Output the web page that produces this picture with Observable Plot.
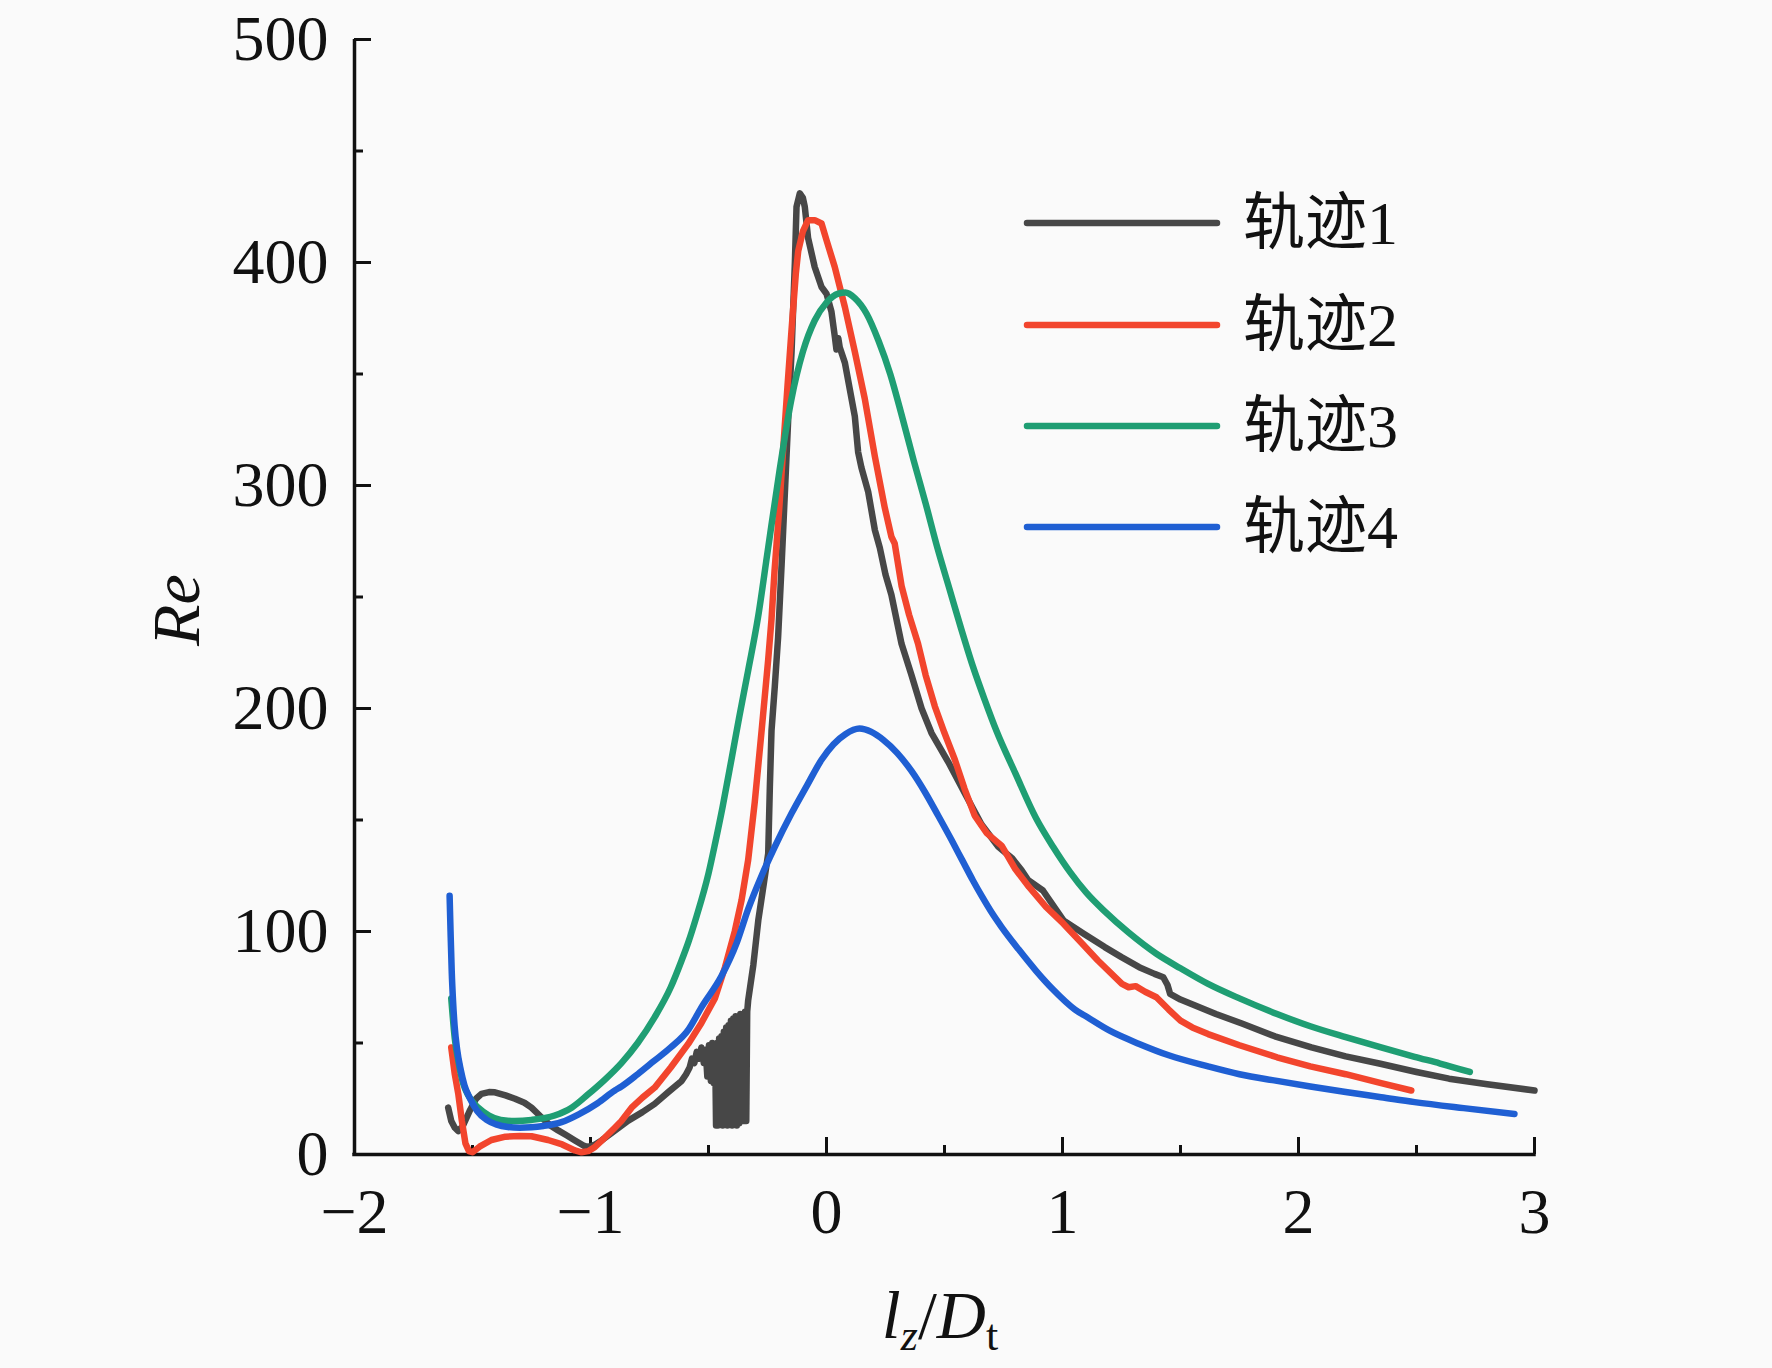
<!DOCTYPE html>
<html>
<head>
<meta charset="utf-8">
<script src="https://cdn.jsdelivr.net/npm/d3@7"></script>
<script src="https://cdn.jsdelivr.net/npm/@observablehq/plot@0.6"></script>
<style>
html, body { margin: 0; padding: 0; background: #fafafa; }
#chart { width: 1772px; height: 1368px; }
</style>
</head>
<body>
<div id="chart"></div>
<script>
// ---------- data ----------
const seriesNames = ["轨迹1", "轨迹2", "轨迹3", "轨迹4"];
const seriesColors = ["#474747", "#f2452d", "#1f9e73", "#1f5fd3"];

// 轨迹1 (gray)
const t1X = [-1.603,-1.59,-1.575,-1.56,-1.54,-1.51,-1.485,-1.462,-1.43,-1.405,-1.36,-1.32,-1.28,-1.25,-1.208,-1.17,-1.137,-1.10,-1.066,-1.03,-1.01,-0.98,-0.953,-0.90,-0.84,-0.78,-0.728,-0.67,-0.614,
  -0.595,-0.58,-0.57,-0.56,-0.55,-0.54,-0.53,-0.52,-0.512,-0.505,-0.498,-0.49,-0.484,-0.478,-0.472,-0.468,-0.464,-0.46,-0.455,-0.45,-0.445,-0.44,-0.435,-0.43,-0.425,-0.42,-0.415,-0.41,-0.405,-0.40,-0.395,-0.39,-0.385,-0.38,-0.375,-0.37,-0.365,-0.36,-0.355,-0.35,-0.345,-0.34,-0.336,-0.332,
  -0.31,-0.289,-0.265,-0.247,-0.24,-0.233,-0.219,-0.205,-0.19,-0.175,-0.16,-0.148,-0.134,-0.127,-0.113,-0.10,-0.092,-0.078,-0.05,-0.021,0.0,0.021,0.035,0.042,0.05,0.056,0.078,0.12,0.134,0.148,0.177,0.205,0.226,0.25,0.275,0.318,0.36,0.403,0.445,0.516,0.586,0.657,0.728,0.785,0.826,0.855,0.917,1.004,1.09,1.179,1.25,1.325,1.39,1.427,1.445,1.456,1.5,1.544,1.65,1.763,1.9,2.055,2.2,2.347,2.5,2.638,2.8,3.0];
const t1Re = [21,15,12,10.5,13,20,25,27.2,28,27.9,26.5,25,23.2,21,16.7,13,10.8,8.5,6.3,4,3.3,4.5,6.3,10.5,15.2,19,22.7,28,33,
  36,39,43,41,46,43,48,41,47,35,49,33,50,32,49,13,50,13,52,14,53,13,55,14,57,13,58,14,60,13,61,14,62,13,62,14,63,15,63,15,64,15,64,69,
  85,105,122,135,165,190,210,232,265,300,335,360,400,425,431,429,425,411,398,389,386,378,367,361,366,362,355,331,315,308,297,280,272,260,251,229,215,200,189,176,162,148,138,133,127.6,123,118.4,105,99,93,88.5,84,81,79.5,76,72,69.5,67.6,63,58.6,53,48,44,40.7,37,34,31.5,28.7];

// 轨迹2 (red)
const t2X = [-1.59,-1.575,-1.56,-1.545,-1.53,-1.515,-1.50,-1.47,-1.42,-1.36,-1.30,-1.25,-1.18,-1.12,-1.066,-1.038,-1.01,-0.982,-0.94,-0.897,-0.869,-0.826,-0.78,-0.728,-0.66,-0.586,-0.53,-0.473,-0.43,-0.389,-0.36,-0.332,-0.304,-0.275,-0.247,-0.233,-0.22,-0.20,-0.185,-0.165,-0.148,-0.13,-0.12,-0.10,-0.078,-0.05,-0.021,0.0,0.035,0.078,0.12,0.162,0.205,0.247,0.275,0.289,0.318,0.35,0.388,0.42,0.459,0.50,0.544,0.585,0.628,0.68,0.742,0.80,0.858,0.93,1.004,1.08,1.15,1.252,1.28,1.31,1.35,1.398,1.45,1.5,1.55,1.617,1.75,1.909,2.05,2.2,2.35,2.478];
const t2Re = [48,36,27,15,5,1.5,1,3.5,6.5,8,8.3,8.2,6.5,4.5,1.8,1,1.5,3.3,7.5,12,15,21,25.5,30,39,49.6,59,70,84,100,114,132,158,190,222,240,262,290,314,345,370,395,405,414,419,419,417.5,410,398,380,360,339,313,290,277,274,255,242,229,215,201,189,177,164,152,144,138.5,128,120,111,103.5,95,87,76.5,75,75.5,73,70.5,65,60,57,54,49,43.6,39.5,36,32,28.7];

// 轨迹3 (green)
const t3X = [-1.59,-1.575,-1.56,-1.54,-1.515,-1.476,-1.43,-1.38,-1.32,-1.25,-1.152,-1.08,-1.01,-0.94,-0.869,-0.80,-0.728,-0.66,-0.614,-0.586,-0.55,-0.50,-0.473,-0.44,-0.403,-0.37,-0.332,-0.29,-0.25,-0.20,-0.15,-0.10,-0.05,0.0,0.05,0.08,0.12,0.17,0.22,0.27,0.32,0.37,0.42,0.47,0.52,0.57,0.62,0.67,0.72,0.80,0.887,0.96,1.033,1.10,1.179,1.28,1.398,1.50,1.617,1.75,1.909,2.05,2.2,2.35,2.492,2.6,2.726];
const t3Re = [70,52,42,32,26,21,17.5,15.5,15,15.5,17.5,21,27,33.5,41,50,61.6,75,87,95,107,126,139,156,177,196,217,241,270,306,338,360,374,382,386,386.5,384,377,365,350,331,311,292,272,254,236,219,204,190,171,151,138,126.5,117.5,109,99.5,90,83.5,76.5,70,63,57.5,52.6,48,43.8,40.8,37];

// 轨迹4 (blue)
const t4X = [-1.597,-1.593,-1.588,-1.582,-1.576,-1.565,-1.55,-1.534,-1.51,-1.48,-1.44,-1.40,-1.35,-1.30,-1.25,-1.20,-1.123,-1.05,-0.97,-0.897,-0.869,-0.80,-0.73,-0.66,-0.585,-0.53,-0.445,-0.38,-0.332,-0.275,-0.219,-0.148,-0.08,-0.021,0.03,0.08,0.14,0.19,0.24,0.30,0.36,0.42,0.473,0.53,0.575,0.62,0.66,0.70,0.742,0.814,0.887,0.96,1.053,1.106,1.2,1.325,1.45,1.617,1.75,1.909,2.05,2.2,2.35,2.492,2.7,2.915];
const t4Re = [116,100,82,68,58,47,38,31,25,19.5,15.5,13.5,12.3,12,12.2,12.8,14.5,18,23,28.7,30.5,36,42,48,56,66,80,95,110,125,138,153,166,177,184,188.5,191,189.5,186,180,172,162,152,141,132,123,115.5,108.5,102,92,82.5,74,65,61.5,55.5,49.6,44.5,39.5,36,33,30.5,28,25.7,23.5,20.8,18.2];

// axis ticks
const xMajor = [-2, -1, 0, 1, 2, 3];
const xMinor = [-1.5, -0.5, 0.5, 1.5, 2.5];
const yMajor = [0, 100, 200, 300, 400, 500];
const yMinor = [50, 150, 250, 350, 450];

// ---------- build ----------
const toRows = (xs, ys) => xs.map((x, i) => ({x, re: ys[i]}));
const seriesRows = [toRows(t1X, t1Re), toRows(t2X, t2Re), toRows(t3X, t3Re), toRows(t4X, t4Re)];
const seriesCurves = ["linear", "linear", "monotone-x", "monotone-x"];

const W = 1772, H = 1368;
const mL = 354, mR = 238, mT = 39, mB = 214;
const plotW = W - mL - mR, plotH = H - mT - mB;
const majorLen = 17, minorLen = 9;
const fmt = d => d < 0 ? "\u2212" + Math.abs(d) : String(d);
const ink = "#111";

const plot = Plot.plot({
  width: W, height: H,
  marginLeft: mL, marginRight: mR, marginTop: mT, marginBottom: mB,
  style: {background: "transparent", fontFamily: "'Liberation Serif', 'Times New Roman', serif", fontSize: "64px", color: ink},
  x: {domain: [-2, 3], label: null},
  y: {domain: [0, 500], label: null},
  marks: [
    Plot.axisX(xMajor, {tickSize: 0, tickPadding: 33, tickFormat: fmt, fontSize: 64, fill: ink}),
    Plot.axisY(yMajor, {tickSize: 0, tickPadding: 26, tickFormat: fmt, fontSize: 64, fill: ink}),
    Plot.tickX(xMajor, {x: d => d, insetTop: plotH - majorLen, stroke: ink, strokeWidth: 3}),
    Plot.tickX(xMinor, {x: d => d, insetTop: plotH - minorLen, stroke: ink, strokeWidth: 3}),
    Plot.tickY(yMajor, {y: d => d, insetRight: plotW - majorLen, stroke: ink, strokeWidth: 3}),
    Plot.tickY(yMinor, {y: d => d, insetRight: plotW - minorLen, stroke: ink, strokeWidth: 3}),
    Plot.ruleX([-2], {y1: 0, y2: 500, stroke: ink, strokeWidth: 3.5}),
    Plot.ruleY([0], {x1: -2, x2: 3, stroke: ink, strokeWidth: 3.5, strokeLinecap: "square"}),
    ...seriesRows.map((rows, i) => Plot.line(rows, {
      x: "x", y: "re", stroke: seriesColors[i], strokeWidth: 6.5,
      curve: seriesCurves[i], strokeLinejoin: "round", strokeLinecap: "round"
    })),
    Plot.text(["Re"], {frameAnchor: "left", dx: -177, dy: 49, rotate: -90, text: d => d,
      fontStyle: "italic", fontSize: 68, fill: ink})
  ]
});

document.getElementById("chart").appendChild(plot);

// x-axis title with subscripts
const svg = d3.select(plot);
const sx = plot.scale("x");
const xTitle = svg.append("text")
  .attr("x", (sx.apply(-2) + sx.apply(3)) / 2 - 4)
  .attr("y", 1338)
  .attr("text-anchor", "middle")
  .attr("font-family", "'Liberation Serif', 'Times New Roman', serif")
  .attr("font-size", 68)
  .attr("fill", ink);
xTitle.append("tspan").attr("font-style", "italic").text("l");
xTitle.append("tspan").attr("font-style", "italic").attr("font-size", 44).attr("dy", 12).text("z");
xTitle.append("tspan").attr("dy", -12).text("/");
xTitle.append("tspan").attr("font-style", "italic").text("D");
xTitle.append("tspan").attr("font-size", 44).attr("dy", 12).text("t");

// legend
const legendX1 = 1027, legendX2 = 1217, legendTextX = 1243;
const legendY = [223, 325, 426, 527];
const lg = svg.append("g");
seriesNames.forEach((name, i) => {
  lg.append("line")
    .attr("x1", legendX1).attr("x2", legendX2)
    .attr("y1", legendY[i]).attr("y2", legendY[i])
    .attr("stroke", seriesColors[i]).attr("stroke-width", 6.5).attr("stroke-linecap", "round");
  lg.append("text")
    .attr("x", legendTextX).attr("y", legendY[i])
    .attr("text-anchor", "start")
    .attr("dominant-baseline", "central")
    .attr("font-family", "'Liberation Serif', 'Noto Sans CJK SC', serif")
    .attr("font-size", 62)
    .attr("fill", ink)
    .text(name);
});
</script>
</body>
</html>
